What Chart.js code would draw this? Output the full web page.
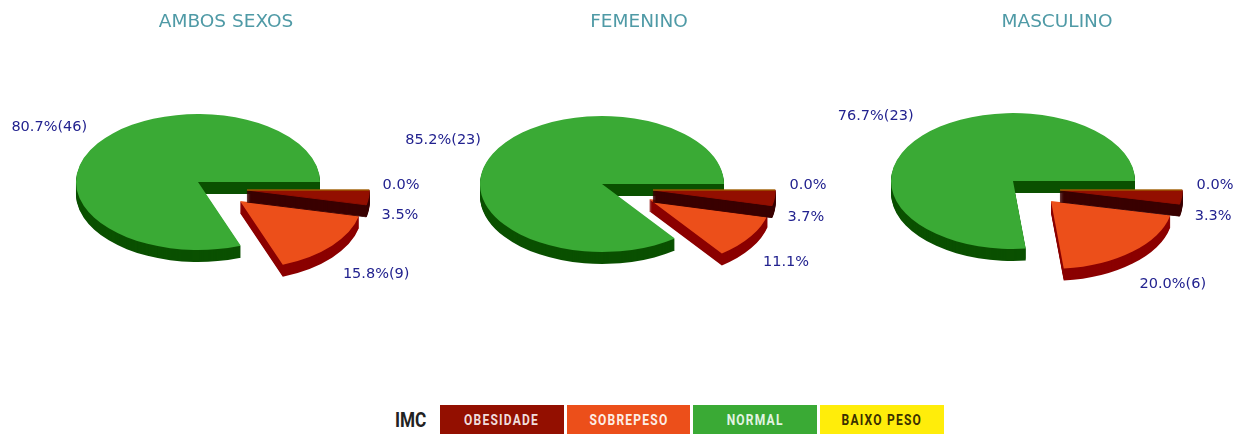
<!DOCTYPE html>
<html>
<head>
<meta charset="utf-8">
<script src="https://cdn.jsdelivr.net/npm/chart.js@4"></script>
<style>
    html, body { margin: 0; padding: 0; background: #fff; }
    #page { position: relative; width: 1248px; height: 437px; overflow: hidden; }
    #page canvas { position: absolute; top: 0; }
    #legend { position: absolute; left: 395px; top: 405px; height: 29px; display: flex; align-items: center; }
    #legend .name { font: bold 20px Roboto, sans-serif; color: #222; width: 45px; }
    #legend .name span { display: inline-block; transform: scaleX(0.86); transform-origin: left center; }
    #legend .box {
        width: 123.67px; height: 29px; margin-right: 3px; text-align: center;
        font: bold 14px/30px Roboto, sans-serif; letter-spacing: 1.4px;
    }
    #legend .box span { display: inline-block; transform: scaleX(0.86); white-space: nowrap; }
</style>
</head>
<body>
<div id="page"><div id="legend"></div></div>
<script>
const categories = ["BAIXO PESO", "OBESIDADE", "SOBREPESO", "NORMAL"];
const titles = ["AMBOS SEXOS", "FEMENINO", "MASCULINO"];

const ambosValues = [0, 2, 9, 46];
const femeninoValues = [0, 1, 3, 23];
const masculinoValues = [0, 1, 6, 23];

const ambosLabels = ["0.0%", "3.5%", "15.8%(9)", "80.7%(46)"];
const femeninoLabels = ["0.0%", "3.7%", "11.1%", "85.2%(23)"];
const masculinoLabels = ["0.0%", "3.3%", "20.0%(6)", "76.7%(23)"];

const faceColors = ["#ffed0a", "#930f00", "#ec4f1a", "#3aaa35"];
const sideColors = ["#ffed0a", "#3a0000", "#8b0000", "#0a5000"];
const legendText = ["#3a3000", "#f0dcdc", "#fdeee6", "#e2f4e2"];

// layout of the three pies, in page pixels
const canvasWidth = 480;
const titleX = [226, 639, 1057];
const pieX = [198, 602, 1013];
const pieY = [182, 184, 181];
const pieRadius = 122;
const squash = 0.557;
const depth = 12;
const labelRadius = 170;

// how far each slice is pulled out of the pie
const sliceShift = [
    [[49, 8], [49, 8], [42, 19], [0, 0]],
    [[51, 6], [51, 6], [47, 15], [0, 0]],
    [[47, 9], [47, 9], [38, 20], [0, 0]]
];
const labelNudge = [
    [[-16, -5], [-16, 15], [8, 11], [-9, -1]],
    [[-15, -5], [-16, 16], [-5, 11], [-7, -1]],
    [[-15, -5], [-16, 16], [8, 13], [-11, -1]]
];

function drawSlice(ctx, arc, color, px, py, edge) {
    ctx.save();
    ctx.translate(px, py);
    ctx.scale(1, squash);
    ctx.translate(-arc.x, -arc.y);
    if (arc.circumference === 0) {
        // empty slice, the library skips it, it is still shown as a line
        ctx.strokeStyle = color;
        ctx.lineWidth = 1;
        ctx.beginPath();
        ctx.moveTo(arc.x, arc.y);
        ctx.lineTo(arc.x + Math.cos(arc.startAngle) * arc.outerRadius, arc.y + Math.sin(arc.startAngle) * arc.outerRadius);
        ctx.stroke();
    }
    else {
        const opts = arc.options;
        const temp = Object.create(opts);
        temp.backgroundColor = color;
        if (edge) {
            // thin wedges fade out at the tip without a border
            temp.borderWidth = 1.5;
            temp.borderColor = color;
        }
        arc.options = temp;
        arc.draw(ctx);
        arc.options = opts;
    }
    ctx.restore();
}

const pie3d = {
    id: "pie3d",
    beforeDatasetDraw(chart, args, opts) {
        const ctx = chart.ctx;
        const arcs = args.meta.data;
        // back to front: normal, sobrepeso, obesidade, baixo peso
        for (let i = arcs.length - 1; i >= 0; i--) {
            const px = opts.x + sliceShift[opts.n][i][0];
            const py = opts.y + sliceShift[opts.n][i][1];
            if (arcs[i].circumference > 0) {
                for (let d = depth; d > 0; d--) {
                    drawSlice(ctx, arcs[i], sideColors[i], px, py + d, i === 1);
                }
            }
            drawSlice(ctx, arcs[i], i === 0 ? "#a89a00" : faceColors[i], px, py, i === 1);
        }
        return false;
    },
    afterDatasetsDraw(chart, args, opts) {
        const ctx = chart.ctx;
        const arcs = chart.getDatasetMeta(0).data;
        ctx.save();
        ctx.font = '14.5px "DejaVu Sans"';
        ctx.fillStyle = "#22228f";
        ctx.textAlign = "center";
        ctx.textBaseline = "middle";
        arcs.forEach((arc, i) => {
            const mid = (arc.startAngle + arc.endAngle) / 2;
            const shift = sliceShift[opts.n][i];
            const nudge = labelNudge[opts.n][i];
            const x = opts.x + shift[0] + Math.cos(mid) * labelRadius + nudge[0];
            const y = opts.y + shift[1] + Math.sin(mid) * labelRadius * squash + nudge[1];
            ctx.fillText(opts.labels[i], x, y);
        });
        ctx.restore();
    }
};

function makePie(n, values, labels) {
    const left = titleX[n] - canvasWidth / 2;
    const canvas = document.createElement("canvas");
    canvas.style.left = left + "px";
    canvas.style.width = canvasWidth + "px";
    canvas.style.height = "437px";
    canvas.width = canvasWidth;
    canvas.height = 437;
    document.getElementById("page").appendChild(canvas);
    return new Chart(canvas, {
        type: "pie",
        data: {
            labels: categories,
            datasets: [{
                data: values,
                backgroundColor: faceColors,
                borderWidth: 0
            }]
        },
        options: {
            responsive: false,
            animation: false,
            rotation: 90,
            radius: pieRadius,
            events: [],
            plugins: {
                legend: { display: false },
                tooltip: { enabled: false },
                title: {
                    display: true,
                    text: titles[n],
                    color: "#4f9aa6",
                    font: { family: "DejaVu Sans", size: 18.5, weight: "normal" },
                    padding: { top: 11, bottom: 4 }
                },
                pie3d: { n: n, labels: labels, x: pieX[n] - left, y: pieY[n] }
            }
        },
        plugins: [pie3d]
    });
}

makePie(0, ambosValues, ambosLabels);
makePie(1, femeninoValues, femeninoLabels);
makePie(2, masculinoValues, masculinoLabels);

const legend = document.getElementById("legend");
legend.innerHTML = '<div class="name"><span>IMC</span></div>';
[1, 2, 3, 0].forEach((i) => {
    const box = document.createElement("div");
    box.className = "box";
    box.innerHTML = "<span>" + categories[i] + "</span>";
    box.style.background = faceColors[i];
    box.style.color = legendText[i];
    legend.appendChild(box);
});
</script>
</body>
</html>
